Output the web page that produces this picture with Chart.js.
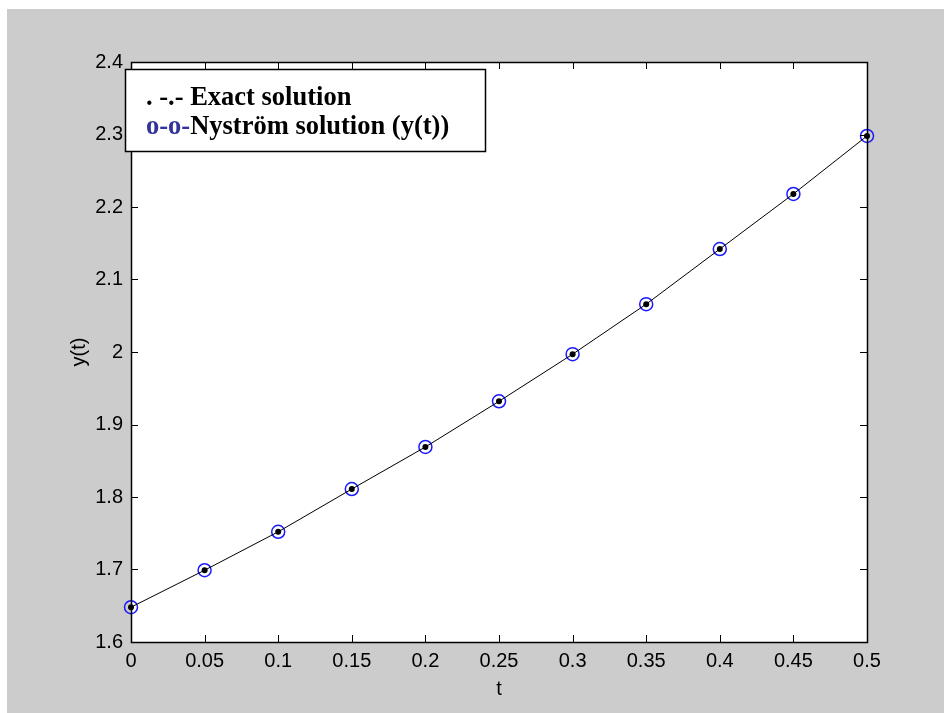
<!DOCTYPE html>
<html>
<head>
<meta charset="utf-8">
<script src="https://cdn.jsdelivr.net/npm/chart.js@4/dist/chart.umd.min.js"></script>
<style>
  html, body { margin: 0; padding: 0; background: #ffffff; }
  #wrap { width: 944px; height: 713px; }
</style>
</head>
<body>
<div id="wrap"><canvas id="c" width="944" height="713"></canvas></div>
<script>
// ---- data ----
const tValues = [0, 0.05, 0.1, 0.15, 0.2, 0.25, 0.3, 0.35, 0.4, 0.45, 0.5];
const exactValues = [1.648, 1.699, 1.752, 1.811, 1.869, 1.932, 1.997, 2.066, 2.142, 2.218, 2.298];
const nystromValues = [1.648, 1.699, 1.752, 1.811, 1.869, 1.932, 1.997, 2.066, 2.142, 2.218, 2.298];
const xTickStep = 0.05;
const yTickStep = 0.1;
const xRange = [0, 0.5];
const yRange = [1.6, 2.4];
const legendLine1 = ". -.- Exact solution";
const legendLine2Prefix = "o-o-";
const legendLine2Text = "Nyström solution (y(t))";
const xTitle = "t";
const yTitle = "y(t)";

const fmt = v => String(+(+v).toFixed(2));

const framePlugin = {
  id: 'framePlugin',
  beforeDraw(chart) {
    const ctx = chart.ctx;
    const a = chart.chartArea;
    ctx.save();
    ctx.fillStyle = '#ffffff';
    ctx.fillRect(0, 0, chart.width, chart.height);
    ctx.fillStyle = '#cccccc';
    ctx.fillRect(7, 9, chart.width - 7, chart.height - 9);
    ctx.fillStyle = '#ffffff';
    ctx.fillRect(a.left, a.top, a.right - a.left, a.bottom - a.top);
    ctx.restore();
  },
  afterDatasetsDraw(chart) {
    const ctx = chart.ctx;
    const a = chart.chartArea;
    const xs = chart.scales.x, ys = chart.scales.y;
    const tl = 7;
    ctx.save();
    ctx.strokeStyle = '#000000';
    ctx.lineWidth = 1;
    ctx.beginPath();
    xs.ticks.forEach(t => {
      const px = Math.round(xs.getPixelForValue(t.value)) + 0.5;
      ctx.moveTo(px, a.bottom); ctx.lineTo(px, a.bottom - tl);
      ctx.moveTo(px, a.top); ctx.lineTo(px, a.top + tl);
    });
    ys.ticks.forEach(t => {
      const py = Math.round(ys.getPixelForValue(t.value)) + 0.5;
      ctx.moveTo(a.left, py); ctx.lineTo(a.left + tl, py);
      ctx.moveTo(a.right, py); ctx.lineTo(a.right - tl, py);
    });
    ctx.stroke();
    ctx.lineWidth = 1.5;
    ctx.strokeRect(Math.round(a.left) + 0.5, Math.round(a.top) + 0.5,
                   Math.round(a.right - a.left), Math.round(a.bottom - a.top));
    ctx.restore();
  },
  afterDraw(chart) {
    const ctx = chart.ctx;
    ctx.save();
    // legend box
    ctx.fillStyle = '#ffffff';
    ctx.fillRect(125.5, 69.5, 360, 82);
    ctx.strokeStyle = '#000000';
    ctx.lineWidth = 1.5;
    ctx.strokeRect(125.5, 69.5, 360, 82);
    ctx.font = 'bold 26.5px "Liberation Serif", "Times New Roman", serif';
    ctx.textBaseline = 'alphabetic';
    ctx.textAlign = 'left';
    ctx.fillStyle = '#000000';
    ctx.fillText(legendLine1, 146, 105);
    ctx.fillStyle = '#33339e';
    ctx.fillText(legendLine2Prefix, 146, 134);
    const w = ctx.measureText(legendLine2Prefix).width;
    ctx.fillStyle = '#000000';
    ctx.fillText(legendLine2Text, 146 + w, 134);
    ctx.restore();
  }
};

const tickFont = { family: 'Arial, "Liberation Sans", Helvetica, sans-serif', size: 20 };

new Chart(document.getElementById('c'), {
  type: 'line',
  data: {
    datasets: [
      {
        label: 'Exact solution',
        data: tValues.map((t, i) => ({ x: t, y: exactValues[i] })),
        borderColor: '#000000',
        borderWidth: 1,
        pointRadius: 3,
        pointBackgroundColor: '#000000',
        pointBorderColor: '#000000',
        pointBorderWidth: 0,
        tension: 0,
        fill: false,
        clip: false,
        order: 0
      },
      {
        label: 'Nyström solution (y(t))',
        data: tValues.map((t, i) => ({ x: t, y: nystromValues[i] })),
        showLine: false,
        pointRadius: 6.5,
        pointBorderColor: '#1a1aff',
        pointBackgroundColor: 'rgba(0,0,0,0)',
        pointBorderWidth: 1.5,
        fill: false,
        clip: false,
        order: 1
      }
    ]
  },
  options: {
    responsive: false,
    animation: false,
    layout: { padding: { left: 0, top: 62, right: 77, bottom: 0 } },
    plugins: { legend: { display: false }, tooltip: { enabled: false } },
    scales: {
      x: {
        type: 'linear',
        min: xRange[0], max: xRange[1],
        grid: { display: false, drawTicks: false },
        border: { display: false },
        ticks: { stepSize: xTickStep, font: tickFont, color: '#000000', padding: 7,
                 maxRotation: 0, autoSkip: false, callback: v => fmt(v) },
        title: { display: true, text: xTitle, font: tickFont, color: '#000000',
                 padding: { top: 0, bottom: 12 } },
        afterFit: s => { s.height = 71; }
      },
      y: {
        type: 'linear',
        min: yRange[0], max: yRange[1],
        grid: { display: false, drawTicks: false },
        border: { display: false },
        ticks: { stepSize: yTickStep, font: tickFont, color: '#000000', padding: 8,
                 autoSkip: false, callback: v => fmt(v) },
        title: { display: true, text: yTitle, font: tickFont, color: '#000000',
                 padding: { top: 67, bottom: 0 } },
        afterFit: s => { s.width = 131; }
      }
    }
  },
  plugins: [framePlugin]
});
</script>
</body>
</html>
